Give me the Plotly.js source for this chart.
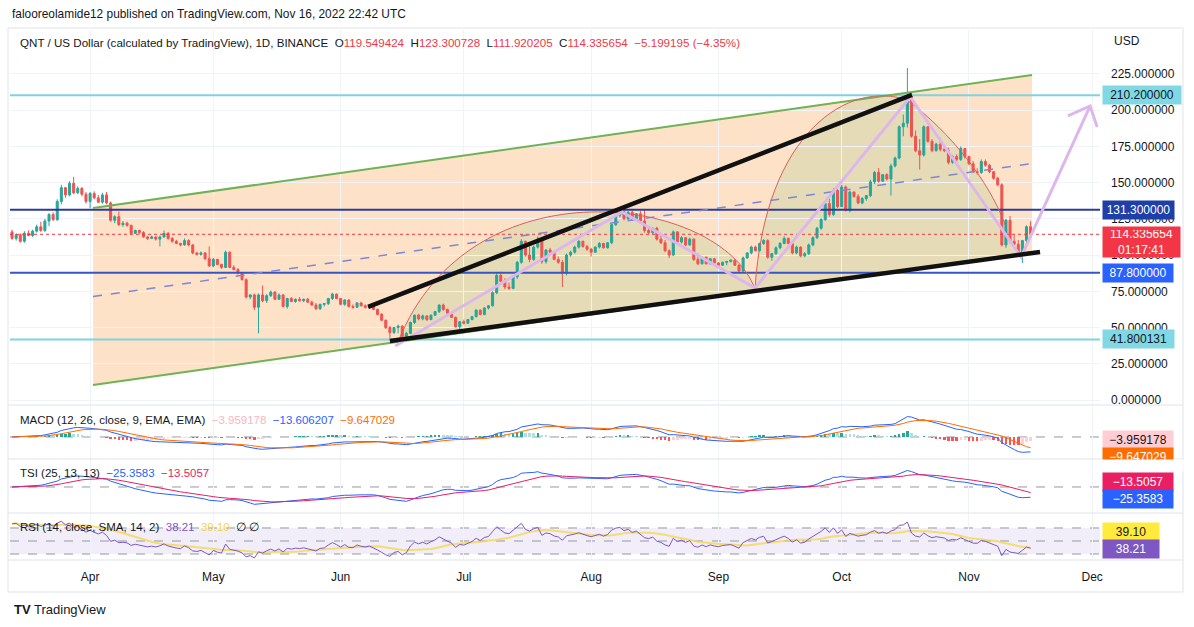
<!DOCTYPE html>
<html><head><meta charset="utf-8">
<script src="https://cdn.plot.ly/plotly-3.0.1.min.js"></script>
<style>html,body{margin:0;padding:0;background:#fff;}#chart{width:1194px;height:627px;}</style>
</head><body><div id="chart"></div>
<script>
// ---------------- data ----------------
const startDate = '2022-03-13';            // first daily candle
const monthTickDays = [19,49,80,110,141,172,202,233,263];
const monthLabels = ['Apr','May','Jun','Jul','Aug','Sep','Oct','Nov','Dec'];
const priceTicks = [0,25,50,75,100,125,150,175,200,225];
const levelPrices = [210.2, 131.3, 87.8, 41.800131];
const lastPrice = 114.335654;

const open = [116,111.5,114,109.5,115,113.5,116.5,119.5,117,123.5,
128,124.5,137,146.5,141.5,149.5,143,146,142,137,
142.5,139.5,136.5,141.5,136,124,126.5,121,122,120.5,
115,117,115.5,112.5,111.5,112.5,111,112.5,115,111.5,
109.5,108,107,110,107,101.5,100.5,101.5,97.5,92.5,
97,93.5,91.5,102,91.5,90,87.5,83,71,72.5,
64,72.5,68.5,72,74.5,69.5,72.5,64.5,70,68,
69.5,68.5,69.5,67.5,65.5,63,66,66.5,70,73,
70,66,69,64.5,64,67,65,64,65,62.5,
59,55,50,46.5,50,51,44,46,53.5,58.5,
56,58,55.5,58.5,61,65.5,62.5,60,57,50.5,
54,53,55.5,57.5,62,59,63.5,65,74,86,
82,78,77,85,95,109.5,100,97,105.5,111,
95.5,103.5,102,97,95,87.5,100,102,105.5,109.5,
106,104,102,105.5,108,105,108.5,121,127.5,130,
125,129.5,124.5,128.5,123.5,117,115.5,118.5,111,108.5,
103,100,116,109,112,107,111,97,94,98.5,
94,97.5,94.5,93,95,95.5,96.5,93,89,98,
101.5,105.5,103,108,110,98.5,101,105,108,111.5,
108,101.5,105.5,99.5,101,107,112,118.5,124.5,135.5,
128,144.5,133.5,147,131,143.5,140.5,136,139,141,
150.5,157,151,155.5,152.5,161.5,167,188.5,191,210.5,
182,172,169,188.5,178.5,172,176.5,173,172,164,
168,166,173.5,168,163,157.5,157,164.5,162,157.5,
153,148.5,107,124,109.5,107.5,101.5,110,119.549424];

const high = [117.5,115,115,116.5,117,117.5,121,123,125,129,
129.5,138.5,148.5,147,151,154,147.5,147,143.5,143.5,
144,141.5,143,143.5,137,127.5,130,123.5,123,121,
117.5,117.5,116.5,113,113.5,113,113.5,117,116,112.5,
110.5,108.5,111.5,111,107.5,102,102.5,102,106,98,
97.5,94,103,102.5,93,91,88,84,73,73.5,
73.5,79,73,75.5,75,73.5,73,70.5,71,70,
71,70,70.5,68.5,67,66.5,67,70.5,74,73.5,
70.5,69.5,69.5,66,67.5,67.5,66,65.5,65.5,63,
60,55.5,51,50.5,52,51.5,47,54,59,59.5,
59,58.5,59,61.5,66,66.5,63,60.5,57.5,54.5,
55.5,56,58,62.5,62.5,64,65.5,75,88,88.5,
84,81,85.5,96,111,110,106,106.5,113,112,
104,105,103,99,96.5,101,103,106.5,110.5,110,
107,105,106,109,108.5,109,121.5,128.5,133,131,
130.5,131,129,130.5,131,120,119,119.5,114,110.5,
104,117,116.5,113,112.5,112,111.5,101,99,99,
98,98,95,95.5,96,97,97,93.5,99,102,
106.5,106.5,108.5,111,111,101.5,106,109,113,112,
109,106.5,106,102,108,113,119.5,125.5,136.5,139,
146,145.5,148.5,148,144.5,144,142,140,141.5,152,
158,160,156,156.5,163,168,189.5,197,229,212,
186,180,189.5,189,180,177.5,181,176.5,174,169,
169.5,175,174,168.5,165,160,166,166,163,158,
154,149.5,125,127,114,110.5,110.5,120.5,123.300728];

const low = [110.5,110,108.5,108.5,113,112.5,115.5,116,116,120,
123.5,123.5,135,139.5,140.5,142,142,140.5,135.5,132.5,
138.5,136,135.5,135,123,122,120,119.5,119.5,114,
114.5,114.5,112,110.5,111,110,106,112,110.5,108.5,
107.5,106,106.5,106,100.5,99.5,99.5,96.5,92,91.5,
93,90.5,91,91,89.5,86.5,82.5,70,69.5,62,
46,67.5,67,71,69,69,64,63,67.5,67,
68,67.5,67,65,62,62,64.5,65.5,69,69.5,
65.5,65,64,63,63.5,64.5,63,63,62,58.5,
54.5,49,41.5,45.5,46,42,43,45.5,52.5,55,
55,54.5,55,58,60,61.5,59,56.5,50,48.5,
52,52.5,55,57,58.5,58.5,62.5,64.5,73,81,
76.5,76,76.5,83.5,94,99,95,96,104.5,94,
94,101,96.5,94,78,86,99,101,104.5,105,
103,99,101.5,104.5,104.5,104.5,107.5,120,126,124,
124,123.5,124,122.5,115.5,114.5,114.5,110,107.5,102,
98,99.5,108,108,106,106.5,96,93,93.5,93.5,
93.5,93.5,92.5,92.5,93,95,92.5,88,88.5,97.5,
100.5,102.5,102.5,107,97.5,96,100,104,107.5,107.5,
100.5,100.5,98.5,98.5,100,106,111,117.5,123.5,126.5,
127,132.5,133,130,129.5,139.5,135,135,137.5,140,
149,150,150.5,151.5,141,160.5,166,182,188,181,
171,159,168,177.5,171,171.5,171.5,171,162.5,163,
164.5,165,166.5,162,156.5,155.5,156,161,156.5,152,
147.5,106,105,108,106.5,99,94.5,108,111.920205];

const close = [111.5,114,109.5,115,113.5,116.5,119.5,117,123.5,128,
124.5,137,146.5,141.5,149.5,143,146,142,137,142.5,
139.5,136.5,141.5,136,124,126.5,121,122,120.5,115,
117,115.5,112.5,111.5,112.5,111,112.5,115,111.5,109.5,
108,107,110,107,101.5,100.5,101.5,97.5,92.5,97,
93.5,91.5,102,91.5,90,87.5,83,71,72.5,64,
72.5,68.5,72,74.5,69.5,72.5,64.5,70,68,69.5,
68.5,69.5,67.5,65.5,63,66,66.5,70,73,70,
66,69,64.5,64,67,65,64,65,62.5,59,
55,50,46.5,50,51,44,46,53.5,58.5,56,
58,55.5,58.5,61,65.5,62.5,60,57,50.5,54,
53,55.5,57.5,62,59,63.5,65,74,86,82,
78,77,85,95,109.5,100,97,105.5,111,95.5,
103.5,102,97,95,87.5,100,102,105.5,109.5,106,
104,102,105.5,108,105,108.5,121,127.5,130,125,
129.5,124.5,128.5,123.5,117,115.5,118.5,111,108.5,103,
100,116,109,112,107,111,97,94,98.5,94,
97.5,94.5,93,95,95.5,96.5,93,89,98,101.5,
105.5,103,108,110,98.5,101,105,108,111.5,108,
101.5,105.5,99.5,101,107,112,118.5,124.5,135.5,128,
144.5,133.5,147,131,143.5,140.5,136,139,141,150.5,
157,151,155.5,152.5,161.5,167,188.5,191,210.5,182,
172,169,188.5,178.5,172,176.5,173,172,164,168,
166,173.5,168,163,157.5,157,164.5,162,157.5,153,
148.5,107,124,109.5,107.5,101.5,110,119.549424,114.335654];

// ---------------- helpers ----------------
const dayIndex = close.map((_, i) => i);
const dates = dayIndex.map(i => { const d = new Date(startDate + 'T00:00:00Z'); d.setUTCDate(d.getUTCDate() + i); return d.toISOString().slice(0,10); });

function emaSeed(src, n, seed) { const a = 2/(n+1); let prev = seed; return src.map(v => (prev = a*v + (1-a)*prev)); }
function mean(a){ return a.reduce((s,v)=>s+v,0)/a.length; }

// MACD (12,26,9)
const ema12 = emaSeed(close, 12, close[0]);
const ema26 = emaSeed(close, 26, close[0]);
const macd = ema12.map((v,i) => v - ema26[i]);
const macdSig = emaSeed(macd, 9, 0);
const hist = macd.map((v,i) => v - macdSig[i]);
const histColors = hist.map((h,i) => {
  const p = i ? hist[i-1] : 0;
  if (h >= 0) return h > p ? '#26A69A' : '#B2DFDB';
  return h < p ? '#FF5252' : '#FFCDD2';
});

// TSI (25,13,13)
const pc = close.map((c,i) => i ? c - close[i-1] : 0);
const apc = pc.map(Math.abs);
const absSeed = mean(apc.slice(1, 26));
const ds = emaSeed(emaSeed(pc, 25, 0), 13, 0);
const da = emaSeed(emaSeed(apc, 25, absSeed), 13, absSeed);
const tsi = ds.map((v,i) => 100 * v / da[i]);
const tsiSig = emaSeed(tsi, 13, tsi[0]);

// RSI (14) + SMA 14
const ups = pc.map(v => Math.max(v,0)), dns = pc.map(v => Math.max(-v,0));
let ru = mean(ups.slice(1,15)), rd = mean(dns.slice(1,15));
const rsi = pc.map((v,i) => { if (i) { ru = (ru*13 + ups[i])/14; rd = (rd*13 + dns[i])/14; } return rd === 0 ? 100 : 100 - 100/(1 + ru/rd); });
const rsiSma = rsi.map((v,i) => mean(rsi.slice(Math.max(0,i-13), i+1)));

// ---------------- traces ----------------
const traces = [
  {type:'candlestick', x:dayIndex, open, high, low, close, xaxis:'x', yaxis:'y',
   increasing:{line:{color:'#26A69A', width:1}, fillcolor:'#26A69A'},
   decreasing:{line:{color:'#EF5350', width:1}, fillcolor:'#EF5350'},
   whiskerwidth:0, hoverinfo:'skip', text:dates},
  {type:'bar', x:dayIndex, y:hist, marker:{color:histColors, line:{width:0}}, width:0.6, xaxis:'x', yaxis:'y2', hoverinfo:'skip'},
  {type:'scatter', mode:'lines', x:dayIndex, y:macd, line:{color:'#2962FF', width:1}, xaxis:'x', yaxis:'y2', hoverinfo:'skip'},
  {type:'scatter', mode:'lines', x:dayIndex, y:macdSig, line:{color:'#FF6D00', width:1}, xaxis:'x', yaxis:'y2', hoverinfo:'skip'},
  {type:'scatter', mode:'lines', x:dayIndex, y:tsi, line:{color:'#2962FF', width:1}, xaxis:'x', yaxis:'y3', hoverinfo:'skip'},
  {type:'scatter', mode:'lines', x:dayIndex, y:tsiSig, line:{color:'#E91E63', width:1}, xaxis:'x', yaxis:'y3', hoverinfo:'skip'},
  {type:'scatter', mode:'lines', x:dayIndex, y:rsiSma, line:{color:'rgba(245,215,80,0.8)', width:2}, xaxis:'x', yaxis:'y4', hoverinfo:'skip'},
  {type:'scatter', mode:'lines', x:dayIndex, y:rsi, line:{color:'#7E57C2', width:1}, xaxis:'x', yaxis:'y4', hoverinfo:'skip'}
];

// ---------------- drawings (user-drawn objects, in chart coordinates) ----------------
const px = v => (v - 10) / 1090;        // pixel x -> paper
const py = v => (560 - v) / 530;        // pixel y -> paper
const XR = [-0.5, 264.9];

const shapes = [];
shapes.push({type:'path', xref:'x', yref:'y', layer:'below', path:'M 19.72,132.5 L 248.36,224.3 L 248.36,102.1 L 19.72,10.35 Z', fillcolor:'rgba(245,124,0,0.22)', line:{width:0}});
shapes.push({type:'path', xref:'x', yref:'y', layer:'below', path:'M 93.99,40.03 C 111.52,165.6 172.4,141.5 180.9,76.6 C 183.35,186.3 204.04,220.8 217.9,207 C 228.4,185 238.1,150.4 241.8,120.8 L 245.4,100.8 Z', fillcolor:'rgba(76,175,80,0.13)', line:{width:0}});
shapes.push({type:'rect', xref:'x', yref:'y4', layer:'below', x0:XR[0], x1:XR[1], y0:30, y1:70, fillcolor:'rgba(126,87,194,0.1)', line:{width:0}});
[['y2',0],['y3',0],['y4',70],['y4',50],['y4',30]].forEach(([yr,v]) => shapes.push({type:'line', xref:'x', yref:yr, x0:XR[0], x1:XR[1], y0:v, y1:v, line:{color:'#9598A1', width:1, dash:'dash'}, layer:'below'}));
const levelColors = ['#7FD3DF', '#2A3C9A', '#3556C4', '#7FD3DF'];
levelPrices.forEach((v,i) => shapes.push({type:'line', xref:'paper', yref:'y', x0:0, x1:1, y0:v, y1:v, line:{color:levelColors[i], width:2}}));
shapes.push({type:'line', xref:'paper', yref:'y', x0:0, x1:1, y0:lastPrice, y1:lastPrice, line:{color:'#F23645', width:1, dash:'dot'}});
shapes.push({type:'line', xref:'x', yref:'y', x0:19.72, y0:132.5, x1:248.36, y1:224.3, line:{color:'#6FB255', width:2}});
shapes.push({type:'line', xref:'x', yref:'y', x0:19.72, y0:10.35, x1:248.36, y1:102.1, line:{color:'#6FB255', width:2}});
shapes.push({type:'line', xref:'x', yref:'y', x0:19.72, y0:71.4, x1:248.36, y1:163.2, line:{color:'#7E86D6', width:1.5, dash:'dash'}});
['M 93.99,40.03 C 111.52,165.6 172.4,141.5 180.9,76.6',
 'M 180.9,76.6 C 183.35,186.3 204.04,220.8 217.9,207',
 'M 217.9,207 C 228.4,185 238.1,150.4 241.8,120.8'].forEach(p => shapes.push({type:'path', xref:'x', yref:'y', path:p, line:{color:'#D9605C', width:1}}));
shapes.push({type:'path', xref:'x', yref:'y', path:'M 93.3,37.3 L 148.5,129.7 L 180.9,77.3 L 218.7,209.1 L 245.7,98.7 L 262.5,202.9', line:{color:'#DDB7EC', width:3}});
shapes.push({type:'path', xref:'x', yref:'y', path:'M 257.1,196 L 262.5,202.9 L 264.2,188.4', line:{color:'#DDB7EC', width:3}});
shapes.push({type:'line', xref:'x', yref:'y', x0:86.7, y0:64.2, x1:219.1, y1:210.5, line:{color:'#111111', width:4.5}});
shapes.push({type:'line', xref:'x', yref:'y', x0:92.0, y0:40.7, x1:250.3, y1:102.1, line:{color:'#111111', width:4.5}});
shapes.push({type:'rect', xref:'paper', yref:'paper', x0:px(8), x1:px(1183), y0:py(592), y1:py(28), line:{color:'#E0E3EB', width:1}, fillcolor:'rgba(0,0,0,0)'});
[405, 459, 513, 560].forEach(v => shapes.push({type:'line', xref:'paper', yref:'paper', x0:px(8), x1:px(1183), y0:py(v), y1:py(v), line:{color:'#E0E3EB', width:1}}));

// ---------------- texts ----------------
const red = s => '<span style="color:#F23645">' + s + '</span>';
const sp = '\u00A0\u00A0';
const ann = [];
const txt = (x, y, text, size, color) => ann.push({xref:'paper', yref:'paper', x, y, xanchor:'left', yanchor:'middle', text, showarrow:false, font:{size:size||12, color:color||'#131722'}});
txt(px(10), py(14), 'falooreolamide12 published on TradingView.com, Nov 16, 2022 22:42 UTC', 11.9);
txt(px(18), py(42), 'QNT / US Dollar (calculated by TradingView), 1D, BINANCE' + sp + 'O' + red('119.549424') + sp + 'H' + red('123.300728') + sp + 'L' + red('111.920205') + sp + 'C' + red('114.335654') + sp + red('−5.199195 (−4.35%)'), 11.6);
txt(px(18), py(420), 'MACD (12, 26, close, 9, EMA, EMA)' + sp + '<span style="color:#F7B7BE">−3.959178</span>' + sp + '<span style="color:#2962FF">−13.606207</span>' + sp + '<span style="color:#FF6D00">−9.647029</span>', 11.5);
txt(px(18), py(473), 'TSI (25, 13, 13)' + sp + '<span style="color:#2962FF">−25.3583</span>' + sp + '<span style="color:#E91E63">−13.5057</span>', 11.5);
txt(px(18), py(527), 'RSI (14, close, SMA, 14, 2)' + sp + '<span style="color:#7E57C2">38.21</span>' + sp + '<span style="color:#F2D638">39.10</span>' + sp + '∅' + '\u00A0' + '∅', 11.5);
txt(px(1112), py(41), 'USD', 12);
txt(px(12), py(609), '<b>TV</b> TradingView', 13, '#131722');

const tag = (text, yref, y, bg, fg, w, h) => ann.push({xref:'paper', yref, x:px(1102), y, xanchor:'left', yanchor:'middle', text, showarrow:false, bgcolor:bg, borderpad:3, width:w, height:h||12, align:'center', font:{size:12, color:fg}});
tag('210.200000', 'y', levelPrices[0], '#80D8E4', '#131722', 72);
tag('131.300000', 'y', levelPrices[1], '#1E3EA8', '#FFFFFF', 65);
tag('87.800000', 'y', levelPrices[2], '#2962FF', '#FFFFFF', 64);
tag('41.800131', 'y', levelPrices[3], '#80D8E4', '#131722', 65);
tag('114.335654<br>01:17:41', 'paper', py(242), '#F23645', '#FFFFFF', 71, 24);
tag('−3.959178', 'paper', py(439.5), '#FFCDD2', '#131722', 64);
tag('−9.647029', 'paper', py(457), '#FF6D00', '#FFFFFF', 64);
ann.push({xref:'paper', yref:'paper', x:px(1100), y:py(465.5), xanchor:'left', yanchor:'middle', text:' ', showarrow:false, bgcolor:'#FFFFFF', borderpad:0, width:82, height:11});
tag('−13.5057', 'paper', py(481.5), '#E91E63', '#FFFFFF', 64);
tag('−25.3583', 'paper', py(498.5), '#2962FF', '#FFFFFF', 64);
tag('39.10', 'paper', py(532), '#FFEB3B', '#131722', 50);
tag('38.21', 'paper', py(549), '#7E57C2', '#FFFFFF', 50);

// ---------------- layout ----------------
const hiddenY = {anchor:'x', showticklabels:false, showgrid:false, zeroline:false, ticks:'', fixedrange:true};
const layout = {
  width:1194, height:627, margin:{l:10, r:94, t:30, b:67},
  paper_bgcolor:'#FFFFFF', plot_bgcolor:'rgba(0,0,0,0)', showlegend:false, bargap:0,
  font:{family:'Liberation Sans, Arial, sans-serif', size:12, color:'#131722'},
  xaxis:{range:XR, anchor:'y4', tickmode:'array', tickvals:monthTickDays, ticktext:monthLabels,
         showgrid:true, gridcolor:'#F0F3FA', zeroline:false, showline:false, ticks:'', ticklabelstandoff:8,
         rangeslider:{visible:false}, fixedrange:true, tickfont:{size:12, color:'#131722'}},
  yaxis:{domain:[py(405), 1], range:[-3.45, 255.3], side:'right', anchor:'x', tickmode:'array', tickvals:priceTicks,
         tickformat:'.6f', showgrid:true, gridcolor:'#F0F3FA', zeroline:false, ticks:'', ticklabelstandoff:10,
         fixedrange:true, tickfont:{size:12, color:'#131722'}},
  yaxis2:Object.assign({domain:[py(459), py(405)], range:[-20.4, 29.6]}, hiddenY),
  yaxis3:Object.assign({domain:[py(513), py(459)], range:[-59.5, 64]}, hiddenY),
  yaxis4:Object.assign({domain:[0, py(513)], range:[20.8, 93]}, hiddenY),
  shapes, annotations:ann
};
Plotly.newPlot('chart', traces, layout, {staticPlot:true, displayModeBar:false});
</script></body></html>
